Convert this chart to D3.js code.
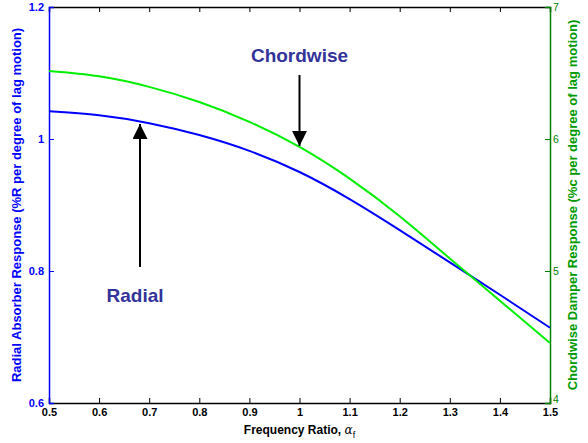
<!DOCTYPE html>
<html>
<head>
<meta charset="utf-8">
<title>Radial / Chordwise response</title>
<script src="https://d3js.org/d3.v7.min.js"></script>
<style>
  body { margin: 0; background: #fff; }
  text { font-family: Arial, "Liberation Sans", sans-serif; }
</style>
</head>
<body>
<script>
// frequency ratio samples
var freqRatio = [0.5, 0.6, 0.7, 0.8, 0.9, 1.0, 1.1, 1.2, 1.3, 1.4, 1.5];
// radial absorber response (left axis)
var radialResp = [1.042, 1.036, 1.024, 1.006, 0.982, 0.950, 0.909, 0.862, 0.813, 0.764, 0.714];
// chordwise damper response (right axis)
var chordResp = [6.515, 6.475, 6.395, 6.28, 6.13, 5.94, 5.70, 5.415, 5.095, 4.775, 4.455];

var xTicks = [0.5, 0.6, 0.7, 0.8, 0.9, 1, 1.1, 1.2, 1.3, 1.4, 1.5];
var leftTicks = [0.6, 0.8, 1, 1.2];
var rightTicks = [4, 5, 6, 7];

var W = 588, H = 443;
var m = {left: 49, right: 38, top: 7, bottom: 40};

var svg = d3.select("body").append("svg")
    .attr("width", W).attr("height", H);

var x = d3.scaleLinear().domain([0.5, 1.5]).range([m.left, W - m.right]);
var yL = d3.scaleLinear().domain([0.6, 1.2]).range([H - m.bottom, m.top]);
var yR = d3.scaleLinear().domain([4, 7]).range([H - m.bottom, m.top]);

var blue = "#0000ff", green = "#00ee00", dkGreen = "#008000", annot = "#333399";

// bottom axis
var gx = svg.append("g")
    .attr("transform", "translate(0," + (H - m.bottom) + ")")
    .call(d3.axisBottom(x).tickValues(xTicks).tickSize(-5).tickPadding(5)
        .tickFormat(d3.format("")));
gx.selectAll("text").attr("font-size", 11).attr("font-weight", "bold").attr("fill", "#000");
gx.select(".domain").attr("stroke", "#000").attr("stroke-width", 1.5);

// top axis
var gt = svg.append("g")
    .attr("transform", "translate(0," + m.top + ")")
    .call(d3.axisTop(x).tickValues(xTicks).tickSize(-5).tickFormat(""));
gt.select(".domain").attr("stroke", "#000").attr("stroke-width", 1.5);

// left axis
var gl = svg.append("g")
    .attr("transform", "translate(" + m.left + ",0)")
    .call(d3.axisLeft(yL).tickValues(leftTicks).tickSize(-5).tickPadding(5)
        .tickFormat(d3.format("")));
gl.selectAll("text").attr("font-size", 11).attr("font-weight", "bold").attr("fill", blue);
gl.selectAll(".tick line").attr("stroke", blue);
gl.select(".domain").attr("stroke", blue).attr("stroke-width", 1.5);

// right axis
var gr = svg.append("g")
    .attr("transform", "translate(" + (W - m.right) + ",0)")
    .call(d3.axisRight(yR).tickValues(rightTicks).tickSize(-5).tickPadding(3)
        .tickFormat(d3.format("d")));
gr.selectAll("text").attr("font-size", 10.5).attr("fill", dkGreen);
gr.selectAll(".tick")
    .filter(function(d) { return d === 4; })
    .select("text").attr("dy", "-0.05em");
gr.selectAll(".tick line").attr("stroke", dkGreen);
gr.select(".domain").attr("stroke", dkGreen).attr("stroke-width", 1.5);

// curves
var lineL = d3.line()
    .x(function(d, i) { return x(freqRatio[i]); })
    .y(function(d) { return yL(d); })
    .curve(d3.curveNatural);
var lineR = d3.line()
    .x(function(d, i) { return x(freqRatio[i]); })
    .y(function(d) { return yR(d); })
    .curve(d3.curveNatural);

svg.append("path").datum(radialResp)
    .attr("d", lineL).attr("fill", "none")
    .attr("stroke", blue).attr("stroke-width", 2);
svg.append("path").datum(chordResp)
    .attr("d", lineR).attr("fill", "none")
    .attr("stroke", green).attr("stroke-width", 2);

// axis titles
svg.append("text")
    .attr("transform", "translate(21," + ((H - m.bottom + m.top) / 2) + ") rotate(-90)")
    .attr("text-anchor", "middle")
    .attr("font-size", 13).attr("font-weight", "bold").attr("fill", blue)
    .text("Radial Absorber Response (%R per degree of lag motion)");

svg.append("text")
    .attr("transform", "translate(577," + ((H - m.bottom + m.top) / 2) + ") rotate(-90)")
    .attr("text-anchor", "middle")
    .attr("font-size", 13).attr("font-weight", "bold").attr("fill", "#009900")
    .text("Chordwise Damper Response (%c per degree of lag motion)");

var xl = svg.append("text")
    .attr("x", x(1)).attr("y", 434)
    .attr("text-anchor", "middle")
    .attr("font-size", 12).attr("font-weight", "bold").attr("fill", "#000");
xl.append("tspan").text("Frequency Ratio, ");
xl.append("tspan").attr("font-weight", "normal").attr("font-family", "DejaVu Serif, serif")
    .attr("font-style", "italic").text("α");
xl.append("tspan").attr("font-weight", "normal").attr("font-size", 9).attr("dy", 4).text("f");

// annotations
var defs = svg.append("defs");
defs.append("marker")
    .attr("id", "ah").attr("viewBox", "0 0 10 10")
    .attr("refX", 10).attr("refY", 5)
    .attr("markerWidth", 7.5).attr("markerHeight", 7.5)
    .attr("markerUnits", "strokeWidth")
    .attr("orient", "auto")
  .append("path").attr("d", "M0,0 L10,5 L0,10 Z").attr("fill", "#000");

svg.append("text")
    .attr("x", x(1)).attr("y", 62)
    .attr("text-anchor", "middle")
    .attr("font-size", 19).attr("font-weight", "bold").attr("fill", annot)
    .text("Chordwise");
svg.append("line")
    .attr("x1", x(1)).attr("y1", 75)
    .attr("x2", x(1)).attr("y2", yR(5.94) - 1)
    .attr("stroke", "#000").attr("stroke-width", 2)
    .attr("marker-end", "url(#ah)");

svg.append("text")
    .attr("x", 135).attr("y", 302)
    .attr("text-anchor", "middle")
    .attr("font-size", 19).attr("font-weight", "bold").attr("fill", annot)
    .text("Radial");
svg.append("line")
    .attr("x1", 140).attr("y1", 267)
    .attr("x2", 140).attr("y2", 124)
    .attr("stroke", "#000").attr("stroke-width", 2)
    .attr("marker-end", "url(#ah)");
</script>
</body>
</html>
